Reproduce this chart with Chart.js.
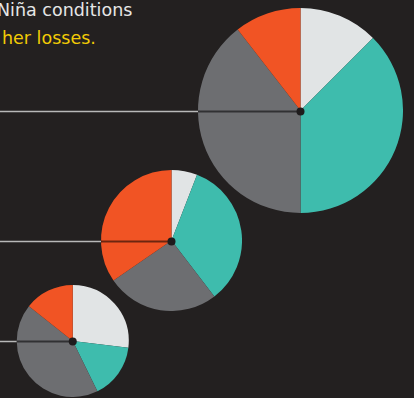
<!DOCTYPE html>
<html>
<head>
<meta charset="utf-8">
<script src="https://cdn.jsdelivr.net/npm/chart.js@4"></script>
<style>
  html, body { margin: 0; padding: 0; background: #232020; overflow: hidden; }
  body { width: 414px; height: 398px; position: relative; }
  .note { position: absolute; left: -3px; top: -4px; font-family: "DejaVu Sans", sans-serif; font-size: 17.5px; line-height: 28px; color: #e6e6e6; white-space: nowrap; }
  .note .hl { color: #f2cb05; margin-left: 5px; }
  canvas { position: absolute; left: 0; }
</style>
</head>
<body>
<div class="note">Niña conditions<br><span class="hl">her losses.</span></div>
<canvas id="pieBig"></canvas>
<canvas id="pieMid"></canvas>
<canvas id="pieSmall"></canvas>
<script>
// slice order, clockwise from 12 o'clock
const categories = ['Light', 'Teal', 'Gray', 'Orange'];
const sliceColors = ['#e1e4e5', '#3ebcad', '#6d6e71', '#f15424'];

const bigValues = [12.5, 37.5, 39.5, 10.5];
const midValues = [5.9, 33.7, 25.8, 34.6];
const smallValues = [26.9, 15.8, 42.9, 14.3];

// pointer line from the left edge to the centre of each pie
const pointer = {
    id: 'pointer',
    afterDraw(chart) {
        const arc = chart.getDatasetMeta(0).data[0];
        const ctx = chart.ctx;
        const x = arc.x, y = Math.round(arc.y) + 0.5, r = arc.outerRadius;
        ctx.save();
        ctx.lineWidth = 1.5;
        ctx.strokeStyle = '#b8b8b8';
        ctx.beginPath();
        ctx.moveTo(0, y);
        ctx.lineTo(x - r, y);
        ctx.stroke();
        ctx.lineWidth = 2;
        ctx.strokeStyle = 'rgba(0,0,0,0.55)';
        ctx.beginPath();
        ctx.moveTo(x - r, y);
        ctx.lineTo(x, y);
        ctx.stroke();
        ctx.fillStyle = '#1f1c1d';
        ctx.beginPath();
        ctx.arc(x, y, 4, 0, Math.PI * 2);
        ctx.fill();
        ctx.restore();
    }
};

function makePie(id, values, cx, cy, r) {
    const canvas = document.getElementById(id);
    canvas.width = Math.ceil(cx + r);
    canvas.height = Math.ceil(2 * r);
    canvas.style.width = canvas.width + 'px';
    canvas.style.height = canvas.height + 'px';
    canvas.style.top = (cy - r) + 'px';
    return new Chart(canvas, {
        type: 'pie',
        data: {
            labels: categories,
            datasets: [{
                data: values,
                backgroundColor: sliceColors,
                borderWidth: 0,
                hoverOffset: 0,
                offset: 0
            }]
        },
        options: {
            responsive: false,
            animation: false,
            layout: { padding: { left: cx - r, right: 0, top: 0, bottom: 0 } },
            plugins: {
                legend: { display: false },
                tooltip: { enabled: false }
            }
        },
        plugins: [pointer]
    });
}

makePie('pieBig', bigValues, 300.5, 110.5, 102.5);
makePie('pieMid', midValues, 171.5, 240.5, 70.5);
makePie('pieSmall', smallValues, 72.5, 340.5, 56);
</script>
</body>
</html>
